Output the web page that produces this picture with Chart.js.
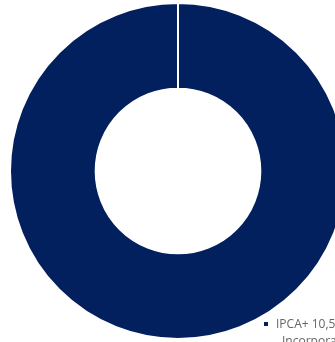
<!DOCTYPE html>
<html>
<head>
<meta charset="utf-8">
<script src="https://cdn.jsdelivr.net/npm/chart.js@4"></script>
<style>
  html, body { margin: 0; padding: 0; background: #fff; overflow: hidden; }
  #wrap { position: relative; width: 360px; height: 342px; }
  #legend { position: absolute; left: 264px; top: 315px; font-family: "Open Sans", sans-serif; font-size: 12px; line-height: 17px; color: #666; white-space: nowrap; }
  #legend .item { display: flex; align-items: flex-start; }
  #legend .box { flex: none; width: 4px; height: 4px; margin: 7px 8px 0 0; }
  #legend .cont { padding-left: 6px; }
</style>
</head>
<body>
<div id="wrap">
  <canvas id="chart"></canvas>
  <div id="legend"></div>
</div>
<script>
const labels = [["IPCA+ 10,5% a.a.", "Incorporadora"]];
const values = [100];
const colors = ["#03205e"];

document.addEventListener("DOMContentLoaded", e => {
  const chart = new Chart(document.getElementById('chart'), {
    type: 'doughnut',
    data: {
      labels: labels,
      datasets: [{
        data: values,
        backgroundColor: colors,
        borderColor: '#ffffff',
        borderWidth: 2
      }]
    },
    options: {
      responsive: true,
      maintainAspectRatio: false,
      animation: false,
      cutout: '49%',
      layout: { padding: { left: 9, right: 13, top: 2, bottom: 2 } },
      plugins: {
        legend: { display: false },
        tooltip: { enabled: false }
      }
    }
  });

  // html legend, label lines after the first are indented a bit
  const legend = document.getElementById('legend');
  labels.forEach((lab, i) => {
    const item = document.createElement('div');
    item.className = 'item';
    const box = document.createElement('span');
    box.className = 'box';
    box.style.background = colors[i];
    const txt = document.createElement('div');
    [].concat(lab).forEach((line, j) => {
      const l = document.createElement('div');
      if (j > 0) l.className = 'cont';
      l.textContent = line;
      txt.appendChild(l);
    });
    item.appendChild(box);
    item.appendChild(txt);
    legend.appendChild(item);
  });
});
</script>
</body>
</html>
